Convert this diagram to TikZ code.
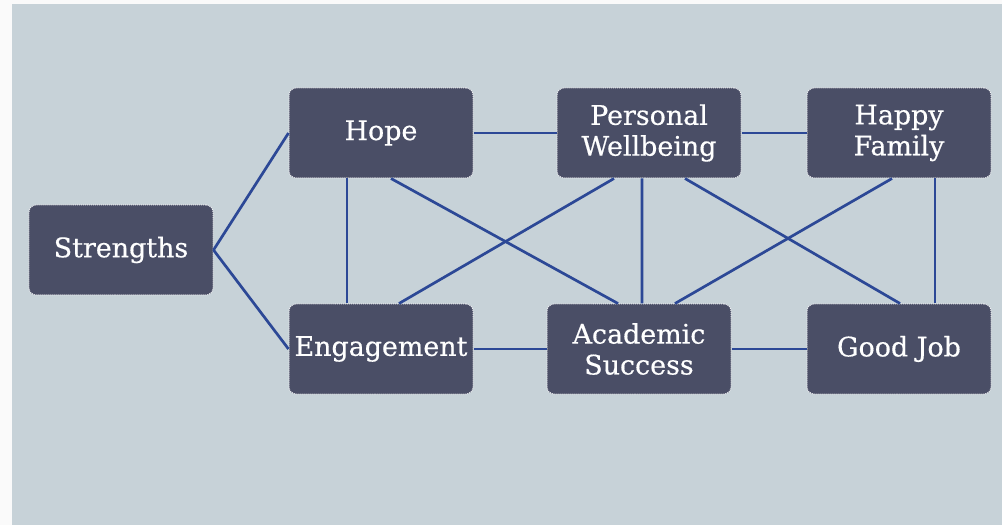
\documentclass[tikz,border=0pt]{standalone}
\usepackage{fontspec}
\setmainfont{DejaVu Serif}[UprightFeatures={FakeBold=0.5}]
\definecolor{boxfill}{HTML}{4A4E66}
\definecolor{linkblue}{HTML}{2C4896}
\definecolor{bgblue}{HTML}{C7D2D8}
\definecolor{pagewhite}{HTML}{FAFAFA}
\definecolor{dotline}{HTML}{F0F1F4}
\begin{document}
\begin{tikzpicture}[x=1bp,y=-1bp,
  box/.style={draw=dotline, densely dotted, line width=1bp, fill=boxfill,
    rounded corners=7bp, minimum width=184bp, minimum height=90bp,
    inner sep=0pt, text=white, font=\fontsize{27}{31}\selectfont, align=center},
  link/.style={draw=linkblue, line width=2.7bp}]
% page and panel
\fill[pagewhite] (0,0) rectangle (1002,525);
\fill[bgblue] (12,4) rectangle (1002,525);
\useasboundingbox (0,0) rectangle (1002,525);

% nodes
\node[box] (str)  at (121,250) {Strengths};
\node[box] (hope) at (381,133) {Hope};
\node[box] (pw)   at (649,133) {Personal\\Wellbeing};
\node[box] (hf)   at (899,133) {Happy\\Family};
\node[box] (eng)  at (381,349) {Engagement};
\node[box] (as)   at (639,349) {Academic\\Success};
\node[box] (gj)   at (899,349) {Good Job};

% connectors
\draw[link] (str.east) -- (hope.west);
\draw[link] (str.east) -- (eng.west);
\draw[link] (hope.east) -- (pw.west);
\draw[link] (pw.east) -- (hf.west);
\draw[link] (eng.east) -- (as.west);
\draw[link] (as.east) -- (gj.west);
\draw[link] ([xshift=-34bp]hope.south) -- ([xshift=-34bp]eng.north);
\draw[link] ([xshift=10bp]hope.south) -- ([xshift=-21bp]as.north);
\draw[link] ([xshift=-35bp]pw.south) -- ([xshift=18bp]eng.north);
\draw[link] ([xshift=-7bp]pw.south) -- ([xshift=3bp]as.north);
\draw[link] ([xshift=36bp]pw.south) -- ([xshift=1bp]gj.north);
\draw[link] ([xshift=-7bp]hf.south) -- ([xshift=36bp]as.north);
\draw[link] ([xshift=36bp]hf.south) -- ([xshift=36bp]gj.north);
\end{tikzpicture}
\end{document}
